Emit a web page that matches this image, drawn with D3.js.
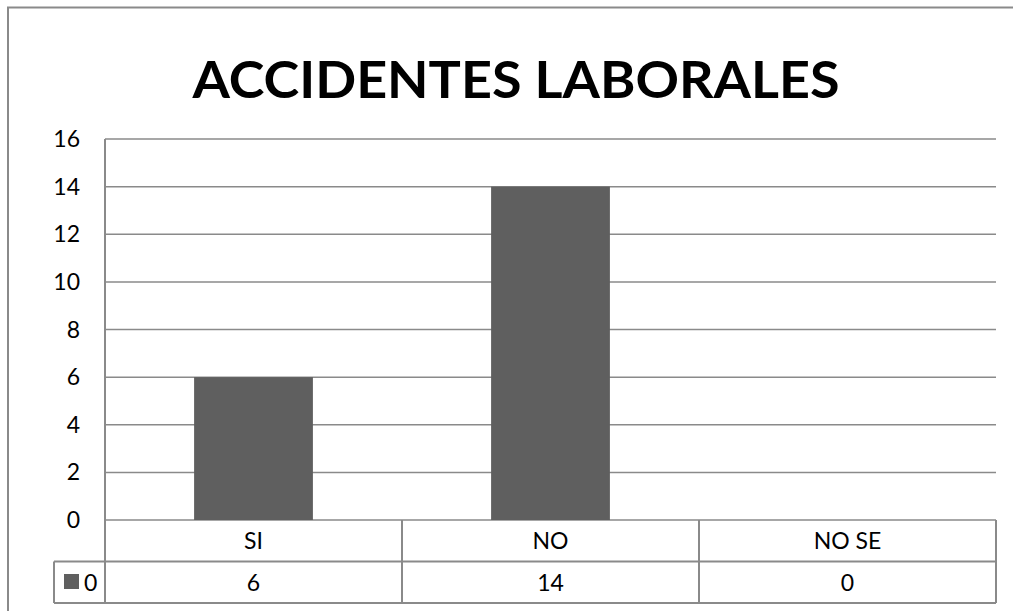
<!DOCTYPE html>
<html>
<head>
<meta charset="utf-8">
<script src="https://cdn.jsdelivr.net/npm/d3@7"></script>
<style>
  body { margin: 0; background: #fff; }
  svg text { font-family: Lato, "Liberation Sans", sans-serif; fill: #000; }
</style>
</head>
<body>
<svg id="chart" width="1013" height="611"></svg>
<script>
// data
var categories = ["SI", "NO", "NO SE"];
var values = [6, 14, 0];
var seriesName = "0";
var yTicks = [0, 2, 4, 6, 8, 10, 12, 14, 16];
var chartTitle = "ACCIDENTES LABORALES";

var svg = d3.select("#chart");
var line = "#8a8a8a";
var fs = 23;

var m = {left: 105, right: 996, top: 139, bottom: 520};
var rowH = 41.5;

// outer frame (left + top only visible)
svg.append("path")
  .attr("d", "M8,611 L8,7.5 L1013,7.5")
  .attr("fill", "none").attr("stroke", line).attr("stroke-width", 2);

svg.append("text")
  .attr("x", 516).attr("y", 98)
  .attr("text-anchor", "middle")
  .attr("font-size", 52).attr("font-weight", "bold")
  .attr("textLength", 647).attr("lengthAdjust", "spacingAndGlyphs")
  .text(chartTitle);

var x = d3.scaleBand().domain(categories).range([m.left, m.right]).paddingInner(0).paddingOuter(0);
var y = d3.scaleLinear().domain([0, 16]).range([m.bottom, m.top]);

// gridlines
svg.append("g").selectAll("line").data(yTicks).join("line")
  .attr("x1", m.left).attr("x2", m.right)
  .attr("y1", d => y(d)).attr("y2", d => y(d))
  .attr("stroke", line).attr("stroke-width", 1.5);

// y labels
svg.append("g").selectAll("text").data(yTicks).join("text")
  .attr("x", 80).attr("y", d => y(d) + 8)
  .attr("text-anchor", "end").attr("font-size", fs)
  .text(d => d);

// bars
var bw = x.bandwidth() * 0.4;
svg.append("g").selectAll("rect").data(values).join("rect")
  .attr("x", (d, i) => x(categories[i]) + (x.bandwidth() - bw) / 2)
  .attr("width", bw)
  .attr("y", d => y(d))
  .attr("height", d => y(0) - y(d))
  .attr("fill", "#5f5f5f");

// data table
var t = svg.append("g").attr("fill", "none").attr("stroke", line).attr("stroke-width", 2);
var tb = m.bottom + rowH * 2;
t.append("line").attr("x1", m.left).attr("x2", m.left).attr("y1", m.top).attr("y2", tb);
categories.forEach(function(c) {
  var xr = x(c) + x.bandwidth();
  t.append("line").attr("x1", xr).attr("x2", xr).attr("y1", m.bottom).attr("y2", tb);
});
t.append("line").attr("x1", m.left).attr("x2", m.right).attr("y1", m.bottom + rowH).attr("y2", m.bottom + rowH);
t.append("line").attr("x1", 54).attr("x2", m.right).attr("y1", tb).attr("y2", tb);
t.append("line").attr("x1", 54).attr("x2", m.left).attr("y1", m.bottom + rowH).attr("y2", m.bottom + rowH);
t.append("line").attr("x1", 54).attr("x2", 54).attr("y1", m.bottom + rowH).attr("y2", tb);

svg.append("g").selectAll("text").data(categories).join("text")
  .attr("x", d => x(d) + x.bandwidth() / 2).attr("y", m.bottom + 29)
  .attr("text-anchor", "middle").attr("font-size", fs)
  .text(d => d);

svg.append("g").selectAll("text").data(values).join("text")
  .attr("x", (d, i) => x(categories[i]) + x.bandwidth() / 2).attr("y", m.bottom + rowH + 29)
  .attr("text-anchor", "middle").attr("font-size", fs)
  .text(d => d);

// legend key in table
svg.append("rect").attr("x", 64).attr("y", 574).attr("width", 15).attr("height", 15).attr("fill", "#5f5f5f");
svg.append("text").attr("x", 84).attr("y", m.bottom + rowH + 29).attr("font-size", fs).text(seriesName);
</script>
</body>
</html>
